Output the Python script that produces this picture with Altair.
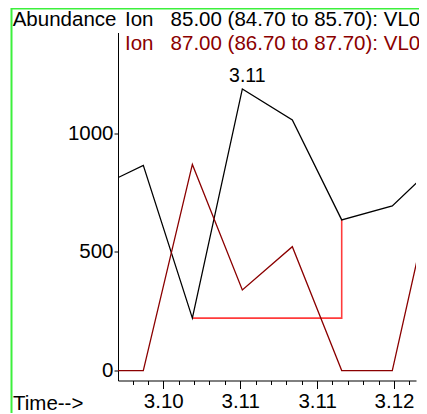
import altair as alt
import pandas as pd

# Retention time (min) of each scan
times = [3.09546, 3.09870, 3.10189, 3.10514, 3.10839, 3.11160, 3.11489, 3.11813]
# Abundance of the two ion traces
ion85 = [763, 865, 221, 1187, 1056, 635, 694, 894]
ion87 = [0, 0, 869, 340, 522, 0, 0, 935]
# Integration baseline drawn under the peak
base_times = [3.10189, 3.11160, 3.11160]
base_vals = [221, 221, 635]
base_step = [0, 1, 2]
# Axis ticks
major_ticks = [3.100, 3.105, 3.110, 3.115]
major_labels = ["3.10", "3.11", "3.11", "3.12"]
minor_ticks = [3.098, 3.099, 3.101, 3.102, 3.103, 3.104, 3.106, 3.107, 3.108,
               3.109, 3.111, 3.112, 3.113, 3.114, 3.116]
y_ticks = [0, 500, 1000]
legend_texts = ["Ion\u00a0\u00a0 85.00 (84.70 to 85.70): VL0",
                "Ion\u00a0\u00a0 87.00 (86.70 to 87.70): VL0"]
series = ["85", "87"]
series_colors = ["#000000", "#8B0000"]

FONT = "Liberation Sans"
FS = 20.5

df = pd.DataFrame({
    "time": times * 2,
    "abund": ion85 + ion87,
    "ion": [series[0]] * len(times) + [series[1]] * len(times),
})
base_df = pd.DataFrame({"time": base_times, "abund": base_vals, "step": base_step})
pk = max(range(len(ion85)), key=lambda i: ion85[i])
peak_df = pd.DataFrame({"time": [times[pk]], "abund": [ion85[pk]],
                        "label": [f"{times[pk]:.2f}"]})

xscale = alt.Scale(domain=[3.097055, 3.116431], nice=False, zero=False)
yscale = alt.Scale(domain=[-42, 1425], nice=False, zero=False)

label_expr = ("[" + ",".join(f"'{l}'" for l in major_labels) + "][indexof(["
              + ",".join(str(v) for v in major_ticks) + "], datum.value)]")

x_major = alt.X("time:Q", scale=xscale, axis=alt.Axis(
    values=major_ticks, labelExpr=label_expr, tickSize=8, labelPadding=3,
    grid=False, title=None, orient="bottom", labelFlush=False, labelOverlap=False))
x_minor = alt.X("time:Q", scale=xscale, axis=alt.Axis(
    values=minor_ticks, tickSize=4, labels=False, domain=False,
    grid=False, title=None, orient="bottom"))
x_none = alt.X("time:Q", scale=xscale, axis=None)
Y = alt.Y("abund:Q", scale=yscale, axis=alt.Axis(
    values=y_ticks, format="d", tickSize=4, labelPadding=1, grid=False, title=None))

lines = alt.Chart(df).mark_line(clip=True, strokeWidth=1.3).encode(
    x=x_major, y=Y,
    color=alt.Color("ion:N", scale=alt.Scale(domain=series, range=series_colors), legend=None),
)
baseline = alt.Chart(base_df).mark_line(clip=True, color="#FF3B3B", strokeWidth=1.6).encode(
    x=x_minor, y=Y, order=alt.Order("step:Q"))
peak_lbl = alt.Chart(peak_df).mark_text(
    font=FONT, fontSize=19.5, align="center", baseline="alphabetic", dx=5, dy=-7, color="black"
).encode(x=x_none, y=Y, text="label:N")

def label(txt, x, y, color="black"):
    return alt.Chart(pd.DataFrame({"t": [txt]})).mark_text(
        font=FONT, fontSize=FS, align="left", baseline="alphabetic", color=color
    ).encode(x=alt.value(x), y=alt.value(y), text="t:N")

abund_lbl = label("Abundance", -105.3, -6.8)
leg1 = label(legend_texts[0], 7, -6.8, series_colors[0])
leg2 = label(legend_texts[1], 7, 17.5, series_colors[1])
time_lbl = label("Time-->", -105, 377)

frame_df = pd.DataFrame({"k": [0]})
GREEN = "#3CF03C"
frame_left = alt.Chart(frame_df).mark_rule(color=GREEN, strokeWidth=2).encode(
    x=alt.value(-106.5), y=alt.value(-24.5), y2=alt.value(420))
frame_right = alt.Chart(frame_df).mark_rule(color=GREEN, strokeWidth=2).encode(
    x=alt.value(308), y=alt.value(-24.5), y2=alt.value(420))
frame_top = alt.Chart(frame_df).mark_rule(color=GREEN, strokeWidth=2).encode(
    x=alt.value(-106.5), x2=alt.value(308), y=alt.value(-24))

chart = alt.layer(
    frame_left, frame_right, frame_top,
    baseline, lines, peak_lbl,
    abund_lbl, leg1, leg2, time_lbl,
).resolve_axis(x="independent").properties(
    width=298, height=348,
    autosize=alt.AutoSizeParams(type="none"),
    padding={"left": 110, "top": 24.5, "right": 3, "bottom": 32},
).configure_view(stroke=None).configure_axis(
    domainColor="black", tickColor="black", labelColor="black",
    labelFont=FONT, labelFontSize=FS, domainWidth=1, tickWidth=1,
)

chart.save("out.html", embed_options={"renderer": "svg", "actions": False})
